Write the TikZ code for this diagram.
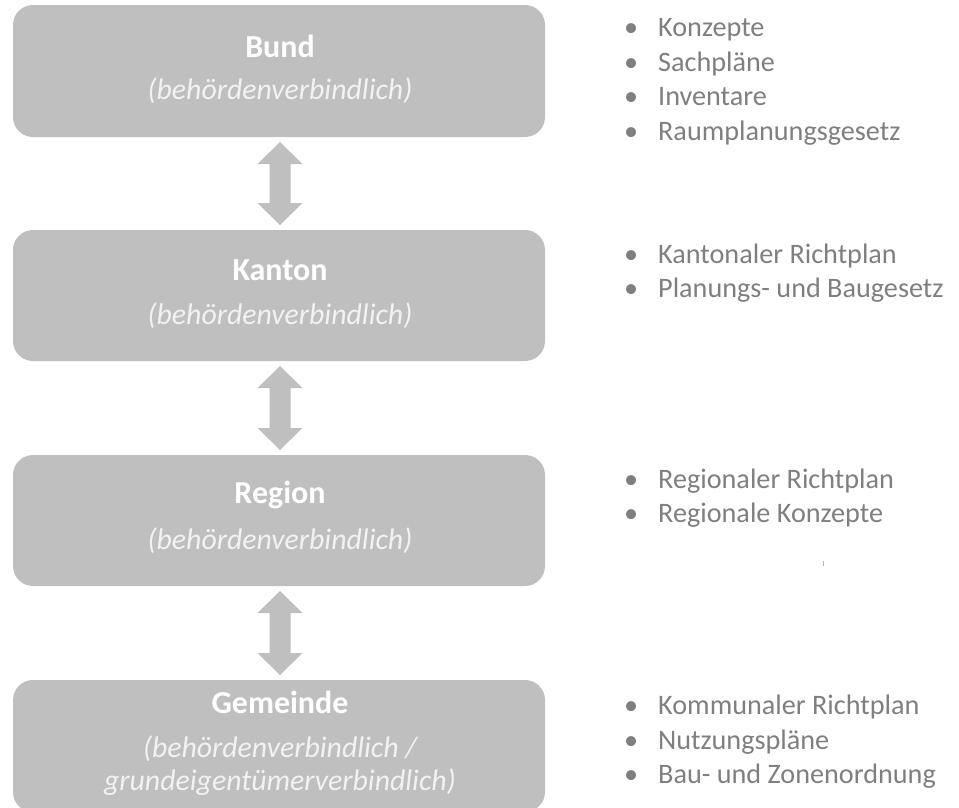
\documentclass[tikz,border=0pt]{standalone}
\usepackage{fontspec}
\setmainfont{Carlito}
\usetikzlibrary{calc}
\definecolor{boxgray}{HTML}{BFBFBF}
\definecolor{subtxt}{HTML}{F2F2F2}
\definecolor{listgray}{HTML}{7F7F7F}
\tikzset{
  levelbox/.style={fill=boxgray, rounded corners=20pt, draw=none},
  titletxt/.style={text=white, font=\fontsize{32}{36}\selectfont\bfseries, inner sep=0pt},
  subtitletxt/.style={text=subtxt, font=\fontsize{29.8}{33}\selectfont\itshape, inner sep=0pt, align=center},
  listtxt/.style={text=listgray, font=\fontsize{28.2}{34.5}\selectfont, inner sep=0pt, anchor=west, align=left},
  linkarrow/.style={fill=boxgray, draw=none}
}
\newcommand{\bl}{\makebox[34pt][l]{\textbullet}}
\begin{document}
\begin{tikzpicture}[x=1pt,y=-1pt]
\clip (0,0) rectangle (959,807);
\useasboundingbox (0,0) rectangle (959,807);
% boxes
\path[levelbox] (13,5) rectangle (545,137);
\path[levelbox] (13,230) rectangle (545,361);
\path[levelbox] (13,455) rectangle (545,586);
\path[levelbox] (13,680) rectangle (545,812);
\coordinate (b1s) at (280,137);
\coordinate (b2n) at (280,230);
\coordinate (b2s) at (280,361);
\coordinate (b3n) at (280,455);
\coordinate (b3s) at (280,586);
\coordinate (b4n) at (280,680);
% titles
\node[titletxt] (t1) at (280,46) {Bund};
\node[subtitletxt] (s1) at (280,91) {(behördenverbindlich)};
\node[titletxt] (t2) at (280,270) {Kanton};
\node[subtitletxt] (s2) at (280,316) {(behördenverbindlich)};
\node[titletxt] (t3) at (280,495) {Region};
\node[subtitletxt] (s3) at (280,541) {(behördenverbindlich)};
\node[titletxt] (t4) at (280,702) {Gemeinde};
\node[subtitletxt] (s4) at (280,766) {(behördenverbindlich /\\grundeigentümerverbindlich)};
% double arrows
\foreach \a/\b in {b1s/b2n, b2s/b3n, b3s/b4n}{
  \path[linkarrow] ($(\a)+(0,5)$) -- ($(\a)+(22.5,27)$) -- ($(\a)+(10.5,27)$)
    -- ($(\b)+(10.5,-27)$) -- ($(\b)+(22.5,-27)$) -- ($(\b)+(0,-5)$)
    -- ($(\b)+(-22.5,-27)$) -- ($(\b)+(-10.5,-27)$) -- ($(\a)+(-10.5,27)$)
    -- ($(\a)+(-22.5,27)$) -- cycle;
}
% lists
\node[listtxt] (l1) at (624,82) {\bl Konzepte\\\bl Sachpläne\\\bl Inventare\\\bl Raumplanungsgesetz};
\begin{scope}
\clip (600,230) rectangle (943,310);
\node[listtxt] (l2) at (624,273) {\bl Kantonaler Richtplan\\\bl Planungs- und Baugesetz};
\end{scope}
\node[listtxt] (l3) at (624,498) {\bl Regionaler Richtplan\\\bl Regionale Konzepte};
\node[listtxt] (l4) at (624,742) {\bl Kommunaler Richtplan\\\bl Nutzungspläne\\\bl Bau- und Zonenordnung};
\draw[listgray!60, line width=1pt] (823,561) -- (823,566);
\end{tikzpicture}
\end{document}
